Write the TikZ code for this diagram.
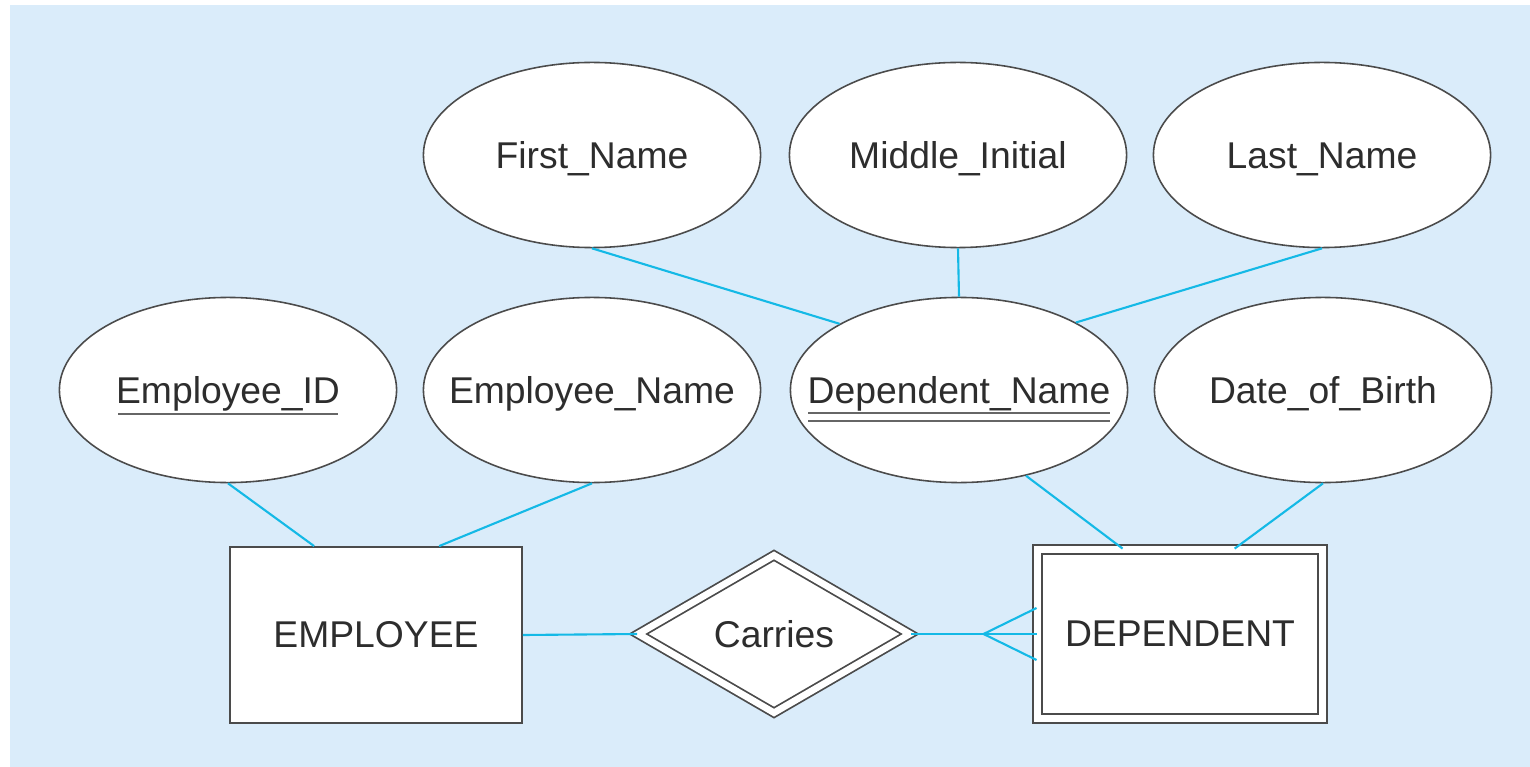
\documentclass[tikz,border=0pt]{standalone}
\usepackage{fontspec}
\setmainfont{Liberation Sans}
\usetikzlibrary{shapes.geometric,calc}
\definecolor{erbg}{RGB}{218,236,250}
\definecolor{erline}{RGB}{20,185,230}
\definecolor{erdraw}{RGB}{75,75,75}
\definecolor{ertext}{RGB}{45,45,45}
\begin{document}
\begin{tikzpicture}[x=0.01cm,y=-0.01cm,
    font=\fontsize{10.6pt}{12pt}\selectfont,
    attr/.style={ellipse,draw=erdraw,line width=0.45pt,fill=white,
      minimum width=3.37cm,minimum height=1.85cm,inner xsep=-0.6cm,
      inner ysep=0pt,text=ertext,text height=1.9ex,text depth=0.5ex},
    entity/.style={rectangle,draw=erdraw,line width=0.5pt,fill=white,
      minimum width=2.92cm,minimum height=1.76cm,text=ertext},
    weakentity/.style={entity,double=white,double distance=1.9pt,
      minimum width=2.85cm,minimum height=1.69cm},
    weakrel/.style={diamond,draw=erdraw,line width=0.5pt,double=white,
      double distance=1.9pt,fill=white,minimum width=2.72cm,
      minimum height=1.58cm,inner sep=0pt,text=ertext},
    link/.style={erline,line width=0.6pt},
    uline/.style={erdraw!85,line width=0.6pt}]
  \useasboundingbox (0,0) rectangle (1530,767);
  \fill[erbg] (10,5) rectangle (1530,767);

  % Marking attributes of DEPENDENT_NAME
  \node[attr] (fn) at (592,155) {First\_Name};
  \node[attr] (mi) at (958,155) {Middle\_Initial};
  \node[attr] (ln) at (1322,155) {Last\_Name};

  % Marking attributes
  \node[attr] (eid) at (228,390) {Employee\_ID};
  \node[attr] (en) at (592,390) {Employee\_Name};
  \node[attr] (dn) at (959,390) {Dependent\_Name};
  \node[attr] (dob) at (1323,390) {Date\_of\_Birth};

  % Marking entities and relationship
  \node[entity] (emp) at (376,635) {EMPLOYEE};
  \node[weakentity] (dep) at (1180,634) {DEPENDENT};
  \node[weakrel] (car) at (774,634) {Carries};

  % Drawing key underlines
  \draw[uline] ($(eid)+(-110,24)$) -- ($(eid)+(110,24)$);
  \draw[uline] ($(dn)+(-151,23)$) -- ($(dn)+(151,23)$);
  \draw[uline] ($(dn)+(-151,31)$) -- ($(dn)+(151,31)$);

  % Drawing segments fn mi ln -- dn
  \draw[link] (fn.south) -- (dn.151);
  \draw[link] (mi.south) -- (dn.north);
  \draw[link] (ln.south) -- (dn.30);

  % Drawing segments eid en -- emp
  \draw[link] (eid.south) -- ([xshift=0.85cm]emp.north west);
  \draw[link] (en.south) -- ([xshift=2.1cm]emp.north west);

  % Drawing segments dn dob -- dep
  \draw[link] (dn.-52) -- ([xshift=0.86cm]dep.north west);
  \draw[link] (dob.south) -- ([xshift=1.98cm]dep.north west);

  % Drawing segment emp car
  \draw[link] (emp.east) -- (car.west);

  % Drawing segment car dep, with crow's foot
  \coordinate (cf) at ($(dep.west)+(-53,0)$);
  \draw[link] (car.east) -- (dep.west);
  \draw[link] ($(dep.west)+(0,-26)$) -- (cf) -- ($(dep.west)+(0,26)$);
\end{tikzpicture}
\end{document}
